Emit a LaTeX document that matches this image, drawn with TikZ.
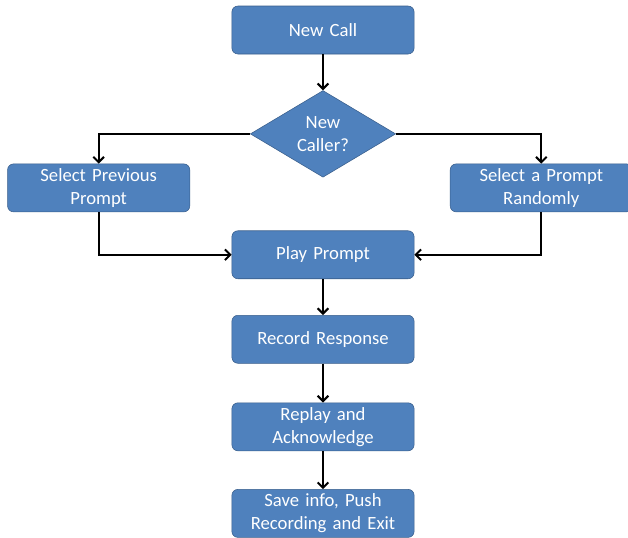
\documentclass[tikz,border=0pt]{standalone}
\usepackage{fontspec}
\setmainfont{Carlito}
\usepackage{tikz}
\usetikzlibrary{positioning,shapes.geometric,arrows.meta}
\definecolor{boxblue}{RGB}{79,129,189}
\definecolor{boxline}{RGB}{56,93,138}

\begin{document}
\begin{tikzpicture}
    \tikzstyle{box} = [rectangle, rounded corners=4.5pt, minimum width=135pt, minimum height=36pt, text width=130pt, align=center, fill=boxblue, draw=boxline, text=white, font=\fontsize{14}{17}\selectfont]
    \tikzstyle{decision} = [diamond, minimum width=109pt, minimum height=64.5pt, inner sep=0pt, align=center, fill=boxblue, draw=boxline, text=white, font=\fontsize{14}{17}\selectfont]
    \tikzstyle{arrow} = [line width=1.5pt,-{Straight Barb[length=4pt,width=8pt]}]
    \useasboundingbox (-242.25pt,22.5pt) rectangle (228.75pt,-380.25pt);
        \node (newcall) [box] {New Call};
        \node (caller) [decision, below=27pt of newcall] {New\\Caller?};
        \node (prev) [box, left=45pt of caller, yshift=-40.5pt] {Select Previous\\Prompt};
        \node (rand) [box, right=40.5pt of caller, yshift=-40.5pt] {Select a Prompt\\Randomly};
        \node (play) [box, below=39.75pt of caller] {Play Prompt};
        \node (record) [box, below=27pt of play] {Record Response};
        \node (replay) [box, below=29.25pt of record] {Replay and\\Acknowledge};
        \node (save) [box, below=28.5pt of replay] {Save info, Push\\Recording and Exit};
        \draw [arrow] (newcall) -- (caller);
        \draw [arrow] (caller.west) -| (prev);
        \draw [arrow] (caller.east) -| (rand);
        \draw [arrow] (prev) |- (play);
        \draw [arrow] (rand) |- (play);
        \draw [arrow] (play) -- (record);
        \draw [arrow] (record) -- (replay);
        \draw [arrow] (replay) -- (save);
    \end{tikzpicture}
\end{document}
